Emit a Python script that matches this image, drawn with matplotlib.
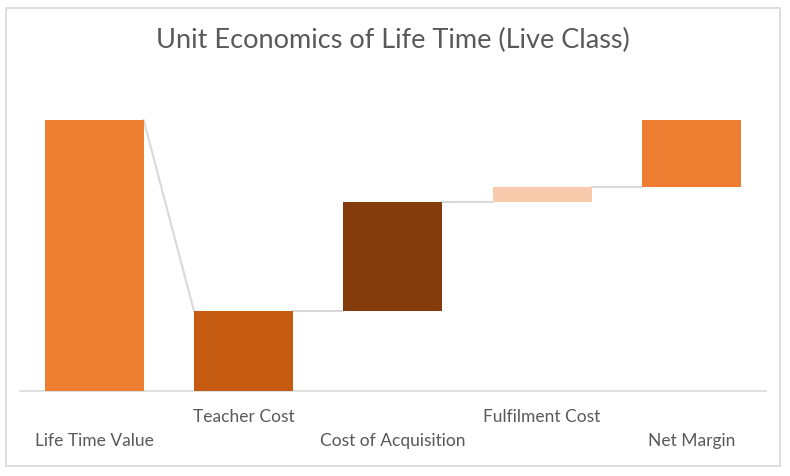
import matplotlib.pyplot as plt
import matplotlib.patches as patches
import numpy as np

# Waterfall-style unit economics chart
categories = ["Life Time Value", "Teacher Cost", "Cost of Acquisition", "Fulfilment Cost", "Net Margin"]
values = [100, 29.5, 40.2, 5.5, 24.8]
colors = ["#ED7D31", "#C55A11", "#843C0C", "#F8CBAD", "#ED7D31"]
title = "Unit Economics of Life Time (Live Class)"

plt.rcParams['font.family'] = ['Lato', 'DejaVu Sans']
text_color = "#595959"
grid_color = "#D9D9D9"

# first bar from zero, rest stack upward from zero
bottoms = [0]
tops = [values[0]]
level = 0
for v in values[1:]:
    bottoms.append(level)
    level += v
    tops.append(level)

W, H = 790, 476
fig = plt.figure(figsize=(W / 100, H / 100), dpi=100)

# outer chart border
fig.patches.append(patches.Rectangle((6 / W, 1 - 466 / H), 774 / W, 458 / H,
                                     transform=fig.transFigure, fill=False,
                                     edgecolor=grid_color, linewidth=1.2))

ax_left, ax_w = 19.5, 746.5
ax = fig.add_axes([ax_left / W, 1 - 391 / H, ax_w / W, 296 / H])
x = np.arange(len(categories))
width = 0.663
heights = [t - b for t, b in zip(tops, bottoms)]
ax.bar(x, heights, width, bottom=bottoms, color=colors, zorder=3)

# connector lines
for i in range(len(categories) - 1):
    y0 = tops[i]
    y1 = tops[1] if i == 0 else bottoms[i + 1]
    ax.plot([x[i] + width / 2, x[i + 1] - width / 2], [y0, y1],
            color=grid_color, linewidth=1.5, zorder=2)

ax.set_xlim(-0.5, len(categories) - 0.5)
ax.set_ylim(0, 296 / 2.71)
for s in ["top", "right", "left"]:
    ax.spines[s].set_visible(False)
ax.spines["bottom"].set_color(grid_color)
ax.spines["bottom"].set_linewidth(1.2)
ax.set_yticks([])
ax.set_xticks([])

# staggered category labels
step = ax_w / len(categories)
for i, cat in enumerate(categories):
    ypix = 417 if i % 2 == 1 else 441
    fig.text((ax_left + (i + 0.5) * step) / W, 1 - ypix / H, cat, ha="center", va="center",
             fontsize=12.5, color=text_color)

fig.text(393 / W, 1 - 40 / H, title, ha="center", va="center", fontsize=19.5, color=text_color)

fig.savefig("out.png", dpi=100)
